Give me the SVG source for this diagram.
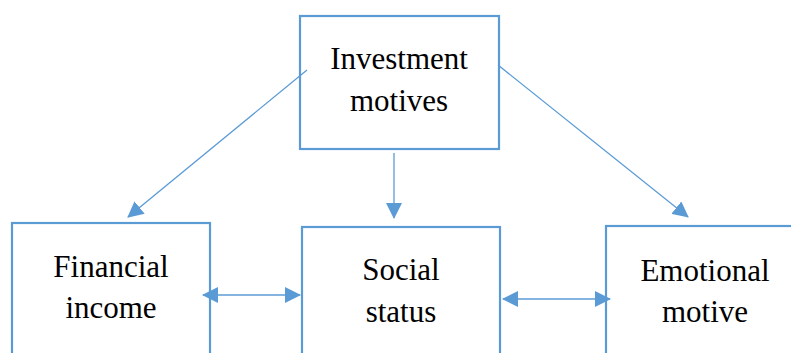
<svg xmlns="http://www.w3.org/2000/svg" width="791" height="353" viewBox="0 0 791 353">
<defs>
<style>
.box{fill:#fff;stroke:#5B9BD5;stroke-width:2.2}
.lbl{font-size:31px;fill:#000;text-anchor:middle}
.con{stroke:#5B9BD5;stroke-width:1.3;fill:none}
</style>
<marker id="ah" markerUnits="userSpaceOnUse" markerWidth="16" markerHeight="16" viewBox="0 0 16 16" refX="15" refY="8" orient="auto-start-reverse">
<path d="M0,0 L16,8 L0,16 Z" fill="#5B9BD5"/>
</marker>
</defs>
<rect width="791" height="353" fill="#fff"/>
<g font-family="'Liberation Serif', 'Times New Roman', Tinos, serif">
<g id="investment">
<rect class="box" x="300" y="16" width="199" height="133"/>
<text class="lbl" x="399" y="69">Investment</text>
<text class="lbl" x="399" y="111">motives</text>
</g>
<g id="financial">
<rect class="box" x="12" y="223" width="198" height="140"/>
<text class="lbl" x="111" y="277">Financial</text>
<text class="lbl" x="111" y="318">income</text>
</g>
<g id="social">
<rect class="box" x="302" y="227" width="198" height="140"/>
<text class="lbl" x="401" y="280">Social</text>
<text class="lbl" x="401" y="322">status</text>
</g>
<g id="emotional">
<rect class="box" x="606" y="226" width="198" height="140"/>
<text class="lbl" x="705" y="281">Emotional</text>
<text class="lbl" x="705" y="322">motive</text>
</g>
</g>
<g id="connectors">
<line class="con" x1="307" y1="70" x2="128" y2="217" marker-end="url(#ah)"/>
<line class="con" x1="394" y1="153" x2="394" y2="218" marker-end="url(#ah)"/>
<line class="con" x1="498" y1="65" x2="688" y2="217" marker-end="url(#ah)"/>
<line class="con" x1="203" y1="295" x2="300" y2="295" marker-start="url(#ah)" marker-end="url(#ah)"/>
<line class="con" x1="503" y1="299" x2="610" y2="299" marker-start="url(#ah)" marker-end="url(#ah)"/>
</g>
</svg>
